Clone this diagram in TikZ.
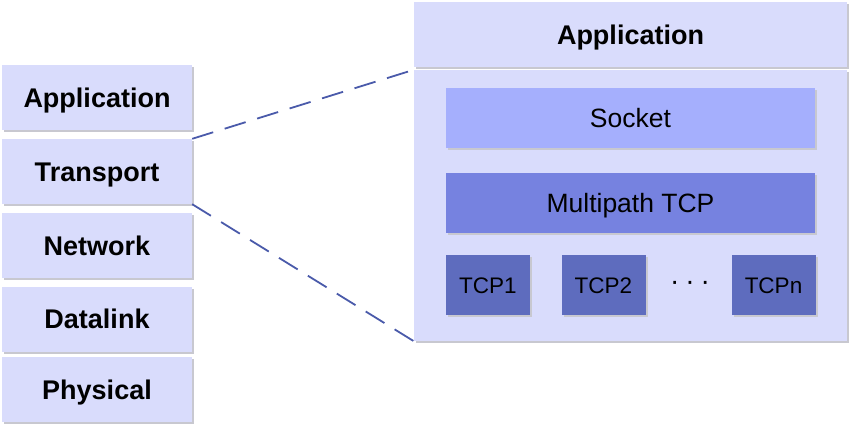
\documentclass[tikz,border=0pt]{standalone}
\usepackage{fontspec}
\setmainfont{Liberation Sans}
\usetikzlibrary{shadows}
\definecolor{lightbox}{HTML}{D9DCFC}
\definecolor{sockbox}{HTML}{A5AFFD}
\definecolor{mptcpbox}{HTML}{7682E0}
\definecolor{tcpbox}{HTML}{5E6CBE}
\definecolor{dashblue}{HTML}{4A5AAA}
\definecolor{shadowgray}{HTML}{C8C8D0}
\tikzset{
  layer/.style={draw=none, fill=#1, inner sep=0pt, rectangle, text depth=0pt,
    drop shadow={shadow xshift=2pt, shadow yshift=-2pt, fill=shadowgray, opacity=1}},
  leftlayer/.style={layer=lightbox, minimum width=190pt, minimum height=65pt,
    text height=19.3pt, font=\fontsize{27}{31}\selectfont\bfseries},
  innerlayer/.style={layer=#1, text height=19pt, font=\fontsize{26.5}{30}\selectfont},
  tcplayer/.style={layer=tcpbox, minimum width=84pt, minimum height=60pt,
    text height=16.1pt, font=\fontsize{22.5}{26}\selectfont},
  zoomline/.style={draw=dashblue, line width=1.8pt, dash pattern=on 22pt off 12pt}
}
\begin{document}
\begin{tikzpicture}[x=1pt,y=-1pt]
\useasboundingbox (0,0) rectangle (849,425);
% left stack
\node[leftlayer] (lapp) at (97,97.5) {Application};
\node[leftlayer] (ltrans) at (97,171.5) {Transport};
\node[leftlayer] (lnet) at (97,245.5) {Network};
\node[leftlayer] (llink) at (97,319) {Datalink};
\node[leftlayer] (lphys) at (97,389.5) {Physical};
% right
\node[layer=lightbox, minimum width=433pt, minimum height=65pt, text height=19.3pt,
  font=\fontsize{27}{31}\selectfont\bfseries] (rapp) at (630.5,34.5) {Application};
\node[layer=lightbox, minimum width=433pt, minimum height=271pt] (rtrans) at (630.5,205.5) {};
\node[innerlayer=sockbox, minimum width=369pt, minimum height=60pt] (sock) at (630.5,118) {Socket};
\node[innerlayer=mptcpbox, minimum width=369pt, minimum height=60pt] (mptcp) at (630.5,203) {Multipath TCP};
\node[tcplayer] (tcp1) at (488,285) {TCP1};
\node[tcplayer] (tcp2) at (603.5,285) {TCP2};
\node[tcplayer] (tcpn) at (773.5,285) {TCPn};
\node[font=\fontsize{28}{32}\selectfont, inner sep=0pt] (dots) at (690,286) {·\hspace{6pt}·\hspace{6pt}·};
% zoom lines
\draw[zoomline] (ltrans.north east) -- (rtrans.north west);
\draw[zoomline] (ltrans.south east) -- (rtrans.south west);
\end{tikzpicture}
\end{document}
